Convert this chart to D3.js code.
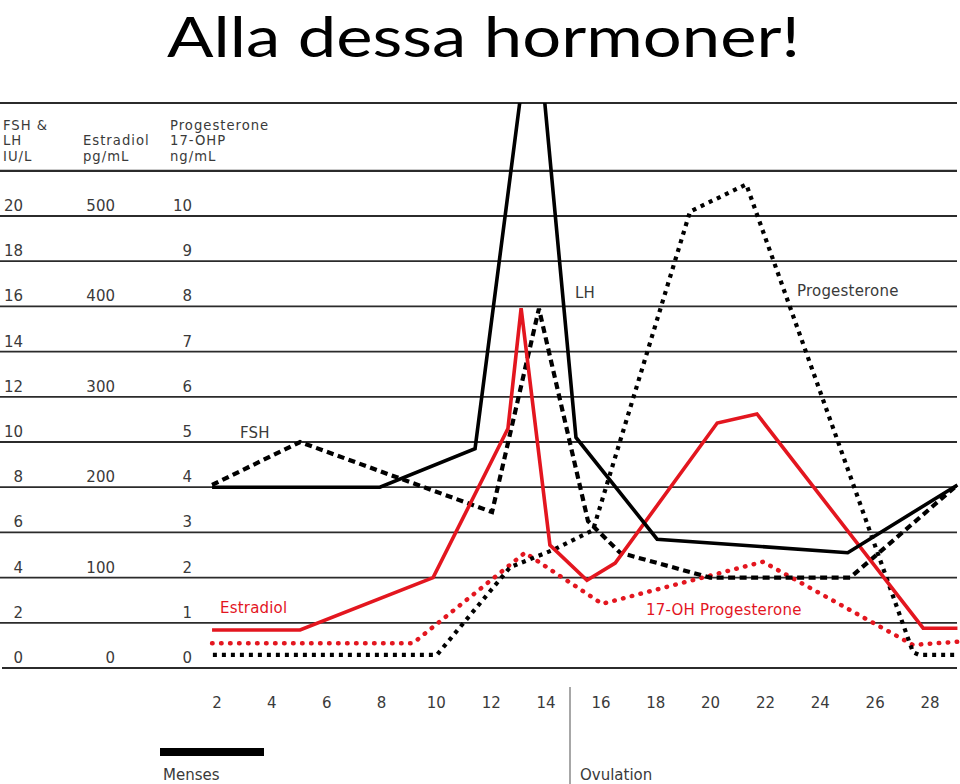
<!DOCTYPE html>
<html><head><meta charset="utf-8">
<script src="https://cdn.jsdelivr.net/npm/d3@7"></script>
<style>body{margin:0;background:#fff}svg{display:block}</style>
</head><body><svg id="c" width="960" height="784"></svg>
<script>
// ---- data ----
const title = "Alla dessa hormoner!";
const days = [2,4,6,8,10,12,14,16,18,20,22,24,26,28];
const ticksIU = [0,2,4,6,8,10,12,14,16,18,20];
const ticksE2 = [0,100,200,300,400,500];
const ticksP = [0,1,2,3,4,5,6,7,8,9,10];
const headerIU = ["FSH &","LH","IU/L"];
const headerE2 = ["","Estradiol","pg/mL"];
const headerP = ["Progesterone","17-OHP","ng/mL"];

// LH (IU/L)
const lhDay = [1.82, 7.94, 11.41, 13.57, 15.09, 18.05, 25.0, 29.0];
const lhVal = [8.0, 8.0, 9.7, 30.0, 10.2, 5.7, 5.1, 8.1];
// FSH (IU/L)
const fshDay = [1.82, 5.03, 12.03, 13.74, 15.53, 16.7, 19.98, 25.09, 29.0];
const fshVal = [8.1, 10.0, 6.9, 15.9, 6.5, 5.1, 4.0, 4.0, 8.1];
// Estradiol (pg/mL)
const e2Day = [1.82, 5.03, 9.88, 12.61, 13.09, 14.14, 15.49, 16.52, 20.24, 21.69, 27.75, 29.0];
const e2Val = [42, 42, 100, 265, 398, 136, 97, 116, 271, 281, 44, 44];
// Progesterone (ng/mL)
const progDay = [1.85, 10.02, 12.69, 14.25, 15.71, 19.25, 21.3, 27.38, 27.6, 29.0];
const progVal = [0.29, 0.29, 2.23, 2.61, 3.05, 10.1, 10.7, 0.35, 0.29, 0.29];
// 17-OH Progesterone (ng/mL)
const ohpDay = [1.82, 9.15, 13.23, 16.04, 21.91, 27.38, 29.0];
const ohpVal = [0.55, 0.55, 2.55, 1.42, 2.35, 0.51, 0.58];

// ---- scales ----
const svg = d3.select("#c");
const x = d3.scaleLinear().domain([2,28]).range([217,930]);
const yIU = d3.scaleLinear().domain([0,25]).range([668,103]);
const yE2 = d3.scaleLinear().domain([0,625]).range([668,103]);
const yP = d3.scaleLinear().domain([0,12.5]).range([668,103]);
const FONT = "'DejaVu Sans', sans-serif";
const FS = 15;
const TXT = "#3a3a3a";
const RED = "#e3161f";

// title
svg.append("text").attr("x",167).attr("y",57)
  .attr("font-family","Lato, 'Open Sans', sans-serif").attr("font-size",57)
  .attr("textLength",633).attr("lengthAdjust","spacingAndGlyphs")
  .attr("fill","#000").text(title);

// grid lines (ticks + header rules)
const ruleVals = ticksIU.concat([22,25]);
svg.append("g").selectAll("line").data(ruleVals).join("line")
  .attr("x1", d => d===0 ? 2 : 0).attr("x2",957)
  .attr("y1", d => yIU(d)).attr("y2", d => yIU(d))
  .attr("stroke","#2b2b2b").attr("stroke-width", d => (d===25||d===22||d===0) ? 2.2 : 1.8);

// header text
const hdr = svg.append("g").attr("font-family",FONT).attr("font-size",13.2).attr("fill",TXT).attr("letter-spacing",1);
const hdrY = [129.5,145.3,161];
[[headerIU,3],[headerE2,83],[headerP,170]].forEach(([arr,hx]) => {
  arr.forEach((t,i) => hdr.append("text").attr("x",hx).attr("y",hdrY[i]).text(t));
});

// y tick labels
const lab = svg.append("g").attr("font-family",FONT).attr("font-size",FS).attr("fill",TXT).attr("text-anchor","end");
lab.selectAll(".iu").data(ticksIU).join("text").attr("class","iu")
  .attr("x",23).attr("y",d => yIU(d)-5).text(d => d);
lab.selectAll(".e2").data(ticksE2).join("text").attr("class","e2")
  .attr("x",115).attr("y",d => yE2(d)-5).text(d => d);
lab.selectAll(".p").data(ticksP).join("text").attr("class","p")
  .attr("x",192).attr("y",d => yP(d)-5).text(d => d);

// x tick labels
svg.append("g").attr("font-family",FONT).attr("font-size",FS).attr("fill",TXT).attr("text-anchor","middle")
  .selectAll("text").data(days).join("text")
  .attr("x", d => x(d)).attr("y",708).text(d => d);

// ovulation marker & menses bar
svg.append("line").attr("x1",570).attr("x2",570).attr("y1",687).attr("y2",784)
  .attr("stroke","#8a8a8a").attr("stroke-width",1.5);
svg.append("rect").attr("x",160).attr("y",748).attr("width",104).attr("height",8).attr("fill","#000");
svg.append("text").attr("x",163).attr("y",780).attr("font-family",FONT).attr("font-size",FS).attr("fill",TXT).text("Menses");
svg.append("text").attr("x",580).attr("y",780).attr("font-family",FONT).attr("font-size",FS).attr("fill",TXT).text("Ovulation");

// clip for data
svg.append("clipPath").attr("id","plotclip").append("rect")
  .attr("x",0).attr("y",yIU(25)).attr("width",960).attr("height",700);
const plot = svg.append("g").attr("clip-path","url(#plotclip)");

function series(dArr, vArr, yScale, color, width, dash, cap) {
  const pts = dArr.map((d,i) => [d, vArr[i]]);
  const line = d3.line().x(p => x(p[0])).y(p => yScale(p[1]));
  plot.append("path").attr("d", line(pts)).attr("fill","none")
    .attr("stroke",color).attr("stroke-width",width)
    .attr("stroke-dasharray",dash).attr("stroke-linecap",cap||"butt")
    .attr("stroke-linejoin","miter");
}
series(ohpDay, ohpVal, yP, RED, 4.5, "0.5 8.5", "round");
series(progDay, progVal, yP, "#000", 4.2, "4 5");
series(fshDay, fshVal, yIU, "#000", 4.2, "7 4.5");
series(e2Day, e2Val, yE2, RED, 3.6, null);
series(lhDay, lhVal, yIU, "#000", 3.6, null);

// series labels
const sl = svg.append("g").attr("font-family",FONT).attr("font-size",FS).attr("letter-spacing",0.2);
sl.append("text").attr("x",240).attr("y",438).attr("fill",TXT).text("FSH");
sl.append("text").attr("x",575).attr("y",298).attr("fill",TXT).text("LH");
sl.append("text").attr("x",797).attr("y",296).attr("fill",TXT).text("Progesterone");
sl.append("text").attr("x",220).attr("y",613).attr("fill",RED).text("Estradiol");
sl.append("text").attr("x",646).attr("y",615).attr("fill",RED).text("17-OH Progesterone");
</script></body></html>
